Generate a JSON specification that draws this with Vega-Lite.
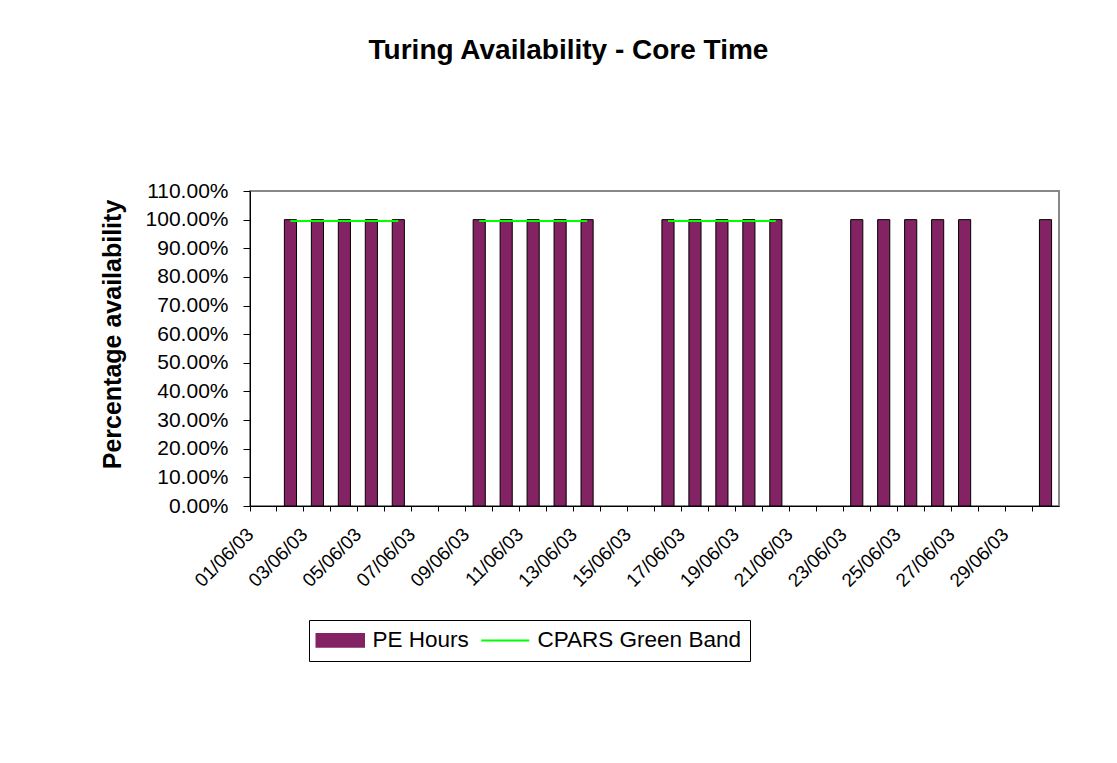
{
  "$schema": "https://vega.github.io/schema/vega-lite/v6.json",
  "width": 809,
  "height": 315,
  "autosize": "none",
  "padding": {"left": 250, "top": 191, "right": 58, "bottom": 257},
  "background": "white",
  "title": {
    "text": "Turing Availability - Core Time",
    "font": "Liberation Sans",
    "fontSize": 28,
    "fontWeight": "bold",
    "color": "black",
    "anchor": "middle",
    "dx": -86,
    "dy": 40,
    "offset": 133,
    "baseline": "alphabetic"
  },
  "data": {
    "values": [
      {"date": "01/06/03", "pe": null, "green": null},
      {"date": "02/06/03", "pe": 1, "green": 0.995},
      {"date": "03/06/03", "pe": 1, "green": 0.995},
      {"date": "04/06/03", "pe": 1, "green": 0.995},
      {"date": "05/06/03", "pe": 1, "green": 0.995},
      {"date": "06/06/03", "pe": 1, "green": 0.995},
      {"date": "07/06/03", "pe": null, "green": null},
      {"date": "08/06/03", "pe": null, "green": null},
      {"date": "09/06/03", "pe": 1, "green": 0.995},
      {"date": "10/06/03", "pe": 1, "green": 0.995},
      {"date": "11/06/03", "pe": 1, "green": 0.995},
      {"date": "12/06/03", "pe": 1, "green": 0.995},
      {"date": "13/06/03", "pe": 1, "green": 0.995},
      {"date": "14/06/03", "pe": null, "green": null},
      {"date": "15/06/03", "pe": null, "green": null},
      {"date": "16/06/03", "pe": 1, "green": 0.995},
      {"date": "17/06/03", "pe": 1, "green": 0.995},
      {"date": "18/06/03", "pe": 1, "green": 0.995},
      {"date": "19/06/03", "pe": 1, "green": 0.995},
      {"date": "20/06/03", "pe": 1, "green": 0.995},
      {"date": "21/06/03", "pe": null, "green": null},
      {"date": "22/06/03", "pe": null, "green": null},
      {"date": "23/06/03", "pe": 1, "green": null},
      {"date": "24/06/03", "pe": 1, "green": null},
      {"date": "25/06/03", "pe": 1, "green": null},
      {"date": "26/06/03", "pe": 1, "green": null},
      {"date": "27/06/03", "pe": 1, "green": null},
      {"date": "28/06/03", "pe": null, "green": null},
      {"date": "29/06/03", "pe": null, "green": null},
      {"date": "30/06/03", "pe": 1, "green": null}
    ]
  },
  "encoding": {
    "x": {
      "field": "date",
      "type": "ordinal",
      "sort": null,
      "scale": {
        "domain": ["01/06/03", "02/06/03", "03/06/03", "04/06/03", "05/06/03", "06/06/03", "07/06/03", "08/06/03", "09/06/03", "10/06/03", "11/06/03", "12/06/03", "13/06/03", "14/06/03", "15/06/03", "16/06/03", "17/06/03", "18/06/03", "19/06/03", "20/06/03", "21/06/03", "22/06/03", "23/06/03", "24/06/03", "25/06/03", "26/06/03", "27/06/03", "28/06/03", "29/06/03", "30/06/03"],
        "paddingInner": 0,
        "paddingOuter": 0
      },
      "axis": {
        "title": null,
        "bandPosition": 0,
        "labelOffset": -13,
        "labelAngle": -45,
        "labelAlign": "right",
        "labelBaseline": "middle",
        "labelFont": "Liberation Sans",
        "labelFontSize": 19,
        "labelColor": "black",
        "labelPadding": 20,
        "labelOverlap": false,
        "labelExpr": "toNumber(slice(datum.label, 0, 2)) % 2 == 1 ? datum.label : ''",
        "tickSize": 5,
        "tickColor": "black",
        "domainColor": "black",
        "grid": false
      }
    }
  },
  "layer": [
    {
      "mark": {"type": "bar", "stroke": "black", "strokeWidth": 1, "width": {"band": 0.45}},
      "encoding": {
        "y": {
          "field": "pe",
          "type": "quantitative",
          "scale": {"domain": [0, 1.1], "nice": false},
          "axis": {
            "title": "Percentage availability",
            "titleFont": "Liberation Sans",
            "titleFontSize": 25,
            "titleFontWeight": "bold",
            "titleColor": "black",
            "titlePadding": 20,
            "titleY": 143,
            "values": [0, 0.1, 0.2, 0.3, 0.4, 0.5, 0.6, 0.7, 0.8, 0.9, 1.0, 1.1],
            "format": ".2%",
            "labelFont": "Liberation Sans",
            "labelFontSize": 21,
            "labelColor": "black",
            "labelPadding": 15,
            "labelOverlap": false,
            "labelBound": false,
            "labelFlush": false,
            "tickSize": 7,
            "tickColor": "black",
            "domainColor": "black",
            "grid": false
          }
        },
        "color": {
          "datum": "PE Hours",
          "scale": {"domain": ["PE Hours", "CPARS Green Band"], "range": ["#832363", "#00ff00"]},
          "legend": {
            "orient": "none",
            "legendX": 59,
            "legendY": 429,
            "direction": "horizontal",
            "columns": 2,
            "title": null,
            "strokeColor": "black",
            "fillColor": "white",
            "padding": 9,
            "symbolSize": 576,
            "symbolOffset": 11,
            "labelOffset": 21,
            "columnPadding": 8,
            "labelFont": "Liberation Sans",
            "labelFontSize": 22.5,
            "labelColor": "black",
            "labelLimit": 400,
            "symbolOpacity": 1,
            "symbolType": {"expr": "datum.value === 'PE Hours' ? 'M-2,-0.55H2V0.55H-2Z' : 'M-2,0H2'"},
            "symbolStrokeColor": {"expr": "datum.value === 'PE Hours' ? 'black' : '#00ff00'"},
            "symbolStrokeWidth": {"expr": "datum.value === 'PE Hours' ? 1.5 : 2"}
          }
        }
      }
    },
    {
      "mark": {"type": "line", "strokeWidth": 2, "invalid": "break-paths-filter-domains"},
      "encoding": {
        "y": {
          "field": "green",
          "type": "quantitative",
          "axis": {
            "title": "Percentage availability",
            "titleFont": "Liberation Sans",
            "titleFontSize": 25,
            "titleFontWeight": "bold",
            "titleColor": "black",
            "titlePadding": 20,
            "titleY": 143,
            "values": [0, 0.1, 0.2, 0.3, 0.4, 0.5, 0.6, 0.7, 0.8, 0.9, 1.0, 1.1],
            "format": ".2%",
            "labelFont": "Liberation Sans",
            "labelFontSize": 21,
            "labelColor": "black",
            "labelPadding": 15,
            "labelOverlap": false,
            "labelBound": false,
            "labelFlush": false,
            "tickSize": 7,
            "tickColor": "black",
            "domainColor": "black",
            "grid": false
          }
        },
        "color": {"datum": "CPARS Green Band", "legend": null}
      }
    }
  ],
  "config": {
    "view": {"stroke": "#888888", "strokeWidth": 2}
  }
}
